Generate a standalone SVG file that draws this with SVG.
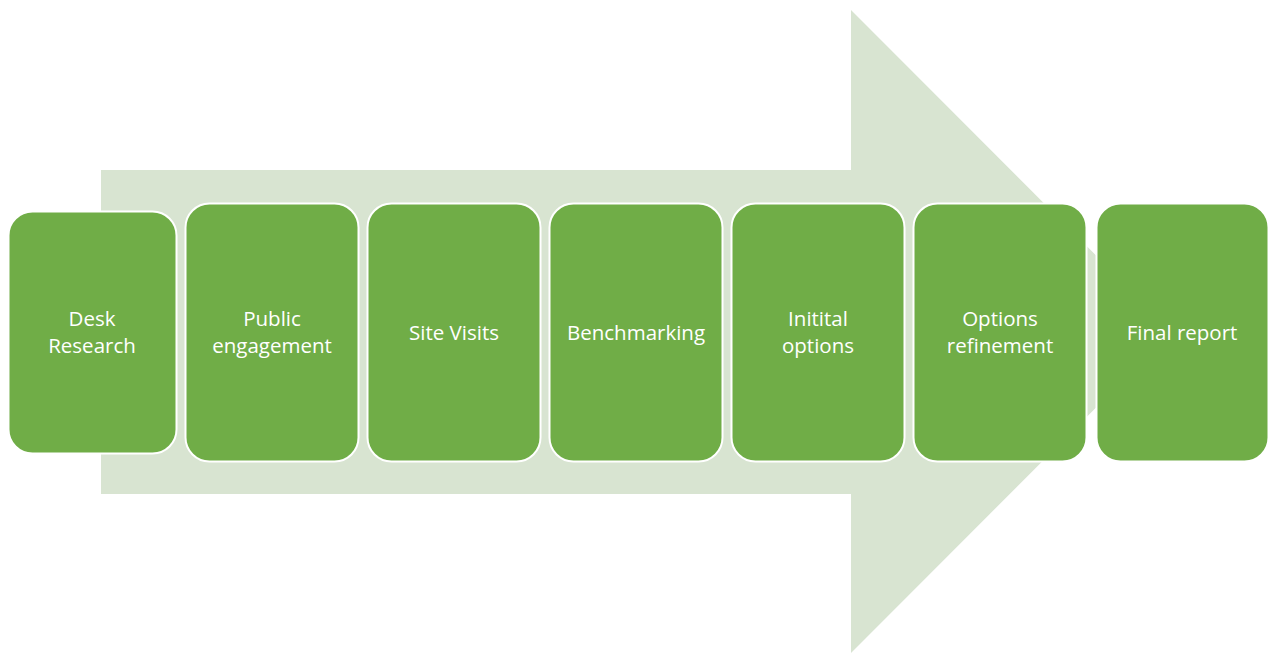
<svg xmlns="http://www.w3.org/2000/svg" width="1269" height="653" viewBox="0 0 1269 653">
<style>
.box{fill:#70AD47;stroke:#FFFFFF;stroke-width:2}
.lbl{font-family:"Open Sans","Liberation Sans",sans-serif;font-size:20.5px;fill:#FFFFFF;text-anchor:middle}
</style>
<rect width="1269" height="653" fill="#FFFFFF"/>
<g id="arrow">
<path d="M101,170 H851 V10 L1172,331.5 L851,653 V494 H101 Z" fill="#D8E4D1"/>
</g>
<g id="connectors"></g>
<g id="n1"><rect class="box" x="8.5" y="211.5" width="168" height="242" rx="24"/><text class="lbl" x="92" y="326">Desk</text><text class="lbl" x="92" y="353">Research</text></g>
<g id="n2"><rect class="box" x="185.5" y="203.5" width="173" height="258" rx="24"/><text class="lbl" x="272" y="326">Public</text><text class="lbl" x="272" y="353">engagement</text></g>
<g id="n3"><rect class="box" x="367.5" y="203.5" width="173" height="258" rx="24"/><text class="lbl" x="454" y="340">Site Visits</text></g>
<g id="n4"><rect class="box" x="549.5" y="203.5" width="173" height="258" rx="24"/><text class="lbl" x="636" y="340">Benchmarking</text></g>
<g id="n5"><rect class="box" x="731.5" y="203.5" width="173" height="258" rx="24"/><text class="lbl" x="818" y="326">Initital</text><text class="lbl" x="818" y="353">options</text></g>
<g id="n6"><rect class="box" x="913.5" y="203.5" width="173" height="258" rx="24"/><text class="lbl" x="1000" y="326">Options</text><text class="lbl" x="1000" y="353">refinement</text></g>
<g id="n7"><rect class="box" x="1096.5" y="203.5" width="172" height="258" rx="24"/><text class="lbl" x="1182" y="340">Final report</text></g>
</svg>
